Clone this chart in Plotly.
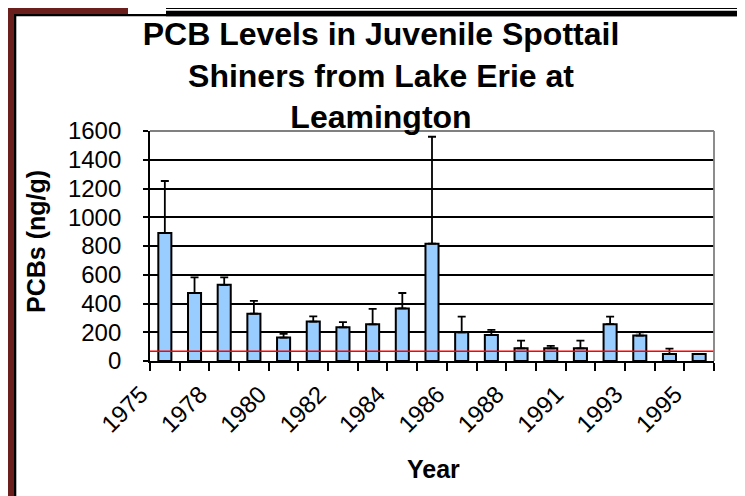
import plotly.graph_objects as go

# sampling years (only every second one is labelled on the axis)
years = [1975, 1976, 1978, 1979, 1980, 1981, 1982, 1983, 1984, 1985,
         1986, 1987, 1988, 1989, 1991, 1992, 1993, 1994, 1995]
# mean PCB concentration (ng/g) and top of the error bar
pcb = [890, 473, 530, 329, 163, 274, 234, 255, 366, 816,
       200, 181, 88, 88, 88, 256, 177, 49, 49]
pcb_upper = [1252, 582, 582, 418, 188, 310, 271, 363, 473, 1560,
             309, 216, 142, 105, 142, 309, 200, 86, 49]
guideline = 67

tick_idx = [0, 2, 4, 6, 8, 10, 12, 14, 16, 18]
tick_labels = [str(years[i]) for i in tick_idx]

W, H = 745, 496
L, R, T, B = 142, 39, 123, 143
PW, PH = W - L - R, H - T - B


def px(x):
    return (x - L) / PW


def py(y):
    return (H - B - y) / PH


FONT = "Liberation Sans, Arial, sans-serif"
idx = list(range(len(years)))
err_plus = [u - v for u, v in zip(pcb_upper, pcb)]

fig = go.Figure()
fig.add_trace(go.Bar(
    x=idx, y=pcb, width=0.44,
    marker=dict(color="#99CCFF", line=dict(color="black", width=2)),
    error_y=dict(type="data", symmetric=False, array=err_plus,
                 arrayminus=[0] * len(pcb), color="black", thickness=1.8, width=4),
    showlegend=False,
))

shapes = [
    # red reference line
    dict(type="line", xref="paper", yref="y", x0=0, x1=1, y0=guideline, y1=guideline,
         line=dict(color="#FF0000", width=1.5), layer="above"),
    # grey top / right border of plot area
    dict(type="line", xref="paper", yref="paper", x0=0, x1=1, y0=1, y1=1,
         line=dict(color="#808080", width=1.8), layer="above"),
    dict(type="line", xref="paper", yref="paper", x0=1, x1=1, y0=0, y1=1,
         line=dict(color="#808080", width=1.8), layer="above"),
    # slide frame
    dict(type="rect", xref="paper", yref="paper", x0=px(0), x1=px(6), y0=py(H), y1=py(0),
         fillcolor="#6B1F1C", line_width=0),
    dict(type="rect", xref="paper", yref="paper", x0=px(0), x1=px(120), y0=py(6), y1=py(0),
         fillcolor="#6B1F1C", line_width=0),
    dict(type="rect", xref="paper", yref="paper", x0=px(6), x1=px(8.3), y0=py(H), y1=py(6),
         fillcolor="black", line_width=0),
    dict(type="rect", xref="paper", yref="paper", x0=px(6), x1=px(W), y0=py(8.3), y1=py(6),
         fillcolor="black", line_width=0),
    dict(type="rect", xref="paper", yref="paper", x0=px(158), x1=px(W), y0=py(8.3), y1=py(2.7),
         fillcolor="black", line_width=0),
    dict(type="rect", xref="paper", yref="paper", x0=px(158), x1=px(W), y0=py(1), y1=py(0),
         fillcolor="black", line_width=0),
]

fig.update_layout(
    width=W, height=H,
    margin=dict(l=L, r=R, t=T, b=B),
    paper_bgcolor="white", plot_bgcolor="white",
    font=dict(family=FONT, color="black"),
    title=dict(text="<b>PCB Levels in Juvenile Spottail<br>Shiners from Lake Erie at<br>Leamington</b>",
               font=dict(size=32, family=FONT, color="black"),
               x=px(373), xref="paper", xanchor="center",
               y=1 - 37 / H, yref="container", yanchor="top"),
    shapes=shapes,
    annotations=[
        dict(text="<b>PCBs (ng/g)</b>", xref="paper", yref="paper", x=px(28), y=py(234),
             textangle=-90, showarrow=False, font=dict(size=25, family=FONT),
             xanchor="center", yanchor="middle"),
        dict(text="<b>Year</b>", xref="paper", yref="paper", x=px(425), y=py(461),
             showarrow=False, font=dict(size=25, family=FONT),
             xanchor="center", yanchor="middle"),
    ],
)

fig.update_xaxes(
    range=[-0.5, len(years) - 0.5],
    tickmode="array", tickvals=tick_idx, ticktext=tick_labels,
    tickangle=-45, tickfont=dict(size=24, family=FONT),
    ticks="", showgrid=False, zeroline=False,
    showline=True, linecolor="black", linewidth=1.8,
    minor=dict(tickmode="linear", tick0=-0.5, dtick=1, ticks="outside",
               ticklen=8, tickwidth=1.8, tickcolor="black", showgrid=False),
    ticklabelshift=-24, ticklabelstandoff=8,
)
fig.update_yaxes(
    range=[0, 1600], dtick=200,
    tickfont=dict(size=24, family=FONT),
    ticks="outside", ticklen=5, tickwidth=1.8, tickcolor="black",
    showgrid=True, gridcolor="black", gridwidth=1.8,
    zeroline=False, showline=True, linecolor="black", linewidth=1.8,
    ticklabelstandoff=17,
)

fig.write_html("out.html")
